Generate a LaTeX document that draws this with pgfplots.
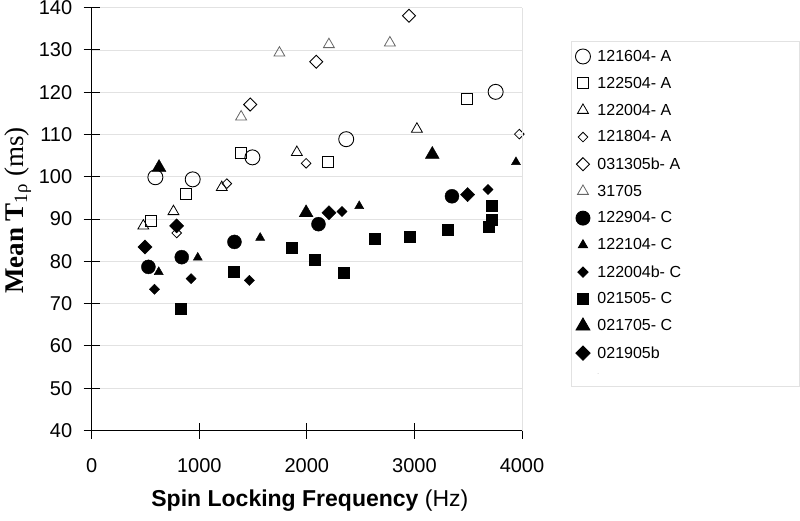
\documentclass[border=0pt]{standalone}
\usepackage{pgfplots}
\pgfplotsset{compat=1.18}
\usepackage{fontspec}
\setmainfont{Liberation Sans}
\newfontfamily\timesfont{Liberation Serif}
\definecolor{gridgray}{HTML}{E2E2E2}
\definecolor{markgray}{HTML}{666666}
\begin{document}
\begin{tikzpicture}[x=1pt,y=1pt]
\path[use as bounding box] (0,0) rectangle (800,520);
\begin{axis}[
  at={(91.7pt,89.5pt)}, anchor=south west,
  scale only axis, width=430.3pt, height=422.8pt,
  xmin=0, xmax=4000, ymin=40, ymax=140,
  xtick={0,1000,2000,3000,4000},
  ytick={40,50,...,140},
  axis x line*=bottom, axis y line*=left,
  axis line style={black, line width=1pt, -},
  tick align=center, major tick length=16pt,
  tick style={black, line width=1pt},
  ymajorgrids, grid style={gridgray, line width=0.9pt},
  clip=false,
  /pgf/number format/assume math mode=true,
  /pgf/number format/set thousands separator={},
  tick label style={font=\fontsize{20}{20}\selectfont},
  xticklabel style={yshift=-16pt},
  yticklabel style={xshift=-8pt},
  xlabel={{\bfseries Spin Locking Frequency} (Hz)},
  xlabel style={font=\fontsize{23}{23}\selectfont, at={(rel axis cs:0.5,0)}, anchor=center, yshift=-70pt, xshift=3pt},
  ylabel={{\bfseries Mean T}\textsubscript{1ρ} (ms)},
  ylabel style={font=\timesfont\fontsize{27}{27}\selectfont, at={(rel axis cs:0,0.52)}, anchor=center, yshift=74pt},
  legend cell align=left,
  legend image code/.code={\draw[mark repeat=2,mark phase=2,#1] plot coordinates {(0pt,0pt)(7pt,0pt)(14pt,0pt)};},
  legend style={at={(1.1139,0.922)}, anchor=north west,
    draw=gridgray, line width=0.9pt,
    font=\fontsize{16}{16}\selectfont,
    inner xsep=4pt, inner ysep=7pt, row sep=10.2pt,
    /tikz/every odd column/.append style={column sep=5pt}},
  after end axis/.code={\draw[gridgray, line width=0.9pt] (rel axis cs:1,0) -- (rel axis cs:1,1);},
]
% 121604-A
\addplot[only marks, mark=o, mark size=7.5pt, mark options={black, line width=0.9pt}]
 coordinates {(592,99.9)(939,99.4)(1494,104.6)(2366,108.9)(3755,120.1)};
\addlegendentry{\makebox[196pt][l]{121604- A}}
% 122504-A
\addplot[only marks, mark=square, mark size=5.5pt, mark options={black, line width=0.9pt}]
 coordinates {(552,89.5)(874,96.0)(1386,105.7)(2198,103.5)(3488,118.3)};
\addlegendentry{122504- A}
% 122004-A
\addplot[only marks, mark=triangle, mark size=6.3pt, mark options={black, line width=0.8pt}]
 coordinates {(480,88.4)(760,91.8)(1209,97.5)(1907,105.8)(3023,111.3)};
\addlegendentry{122004- A}
% 121804-A
\addplot[only marks, mark=square, mark size=3.4pt, mark options={black, line width=0.8pt, rotate=45}]
 coordinates {(790,86.7)(1256,98.4)(1993,103.2)(3975,110.1)};
\addlegendentry{121804- A}
% 031305b-A
\addplot[only marks, mark=square, mark size=4.6pt, mark options={black, line width=0.9pt, rotate=45}]
 coordinates {(1473,117.1)(2087,127.2)(2949,138.1)};
\addlegendentry{031305b- A}
% 31705
\addplot[only marks, mark=triangle, mark size=6.3pt, mark options={markgray, line width=0.8pt}]
 coordinates {(1389,114.2)(1745,129.3)(2205,131.3)(2772,131.7)};
\addlegendentry{31705}
% 122904-C
\addplot[only marks, mark=*, mark size=7pt, mark options={black, fill=black}]
 coordinates {(527,78.7)(837,81.0)(1327,84.6)(2108,88.8)(3349,95.4)};
\addlegendentry{122904- C}
% 122104-C
\addplot[only marks, mark=triangle*, mark size=5.2pt, mark options={black, fill=black}]
 coordinates {(623,77.5)(986,80.9)(1566,85.6)(2487,93.1)(3944,103.5)};
\addlegendentry{122104- C}
% 122004b-C
\addplot[only marks, mark=square*, mark size=3.6pt, mark options={black, fill=black, rotate=45}]
 coordinates {(583,73.4)(924,75.9)(1466,75.5)(2326,91.8)(3684,97.0)};
\addlegendentry{122004b- C}
% 021505-C
\addplot[only marks, mark=square*, mark size=5.5pt, mark options={black, fill=black}]
 coordinates {(831,68.8)(1318,77.5)(1860,83.3)(2077,80.3)(2344,77.3)(2633,85.4)(2955,85.9)(3312,87.6)(3693,88.1)(3714,89.9)(3721,93.1)};
\addlegendentry{021505- C}
% 021705-C
\addplot[only marks, mark=triangle*, mark size=8pt, mark options={black, fill=black}]
 coordinates {(626,102.2)(1993,91.5)(3166,105.3)};
\addlegendentry{021705- C}
% 021905b
\addplot[only marks, mark=square*, mark size=5pt, mark options={black, fill=black, rotate=45}]
 coordinates {(496,83.4)(790,88.4)(2205,91.5)(3494,95.8)};
\addlegendentry{021905b}
\addlegendimage{empty legend}
\addlegendentry{\textcolor{gray!40}{\fontsize{6}{6}\selectfont -}}
\end{axis}
\end{tikzpicture}
\end{document}
